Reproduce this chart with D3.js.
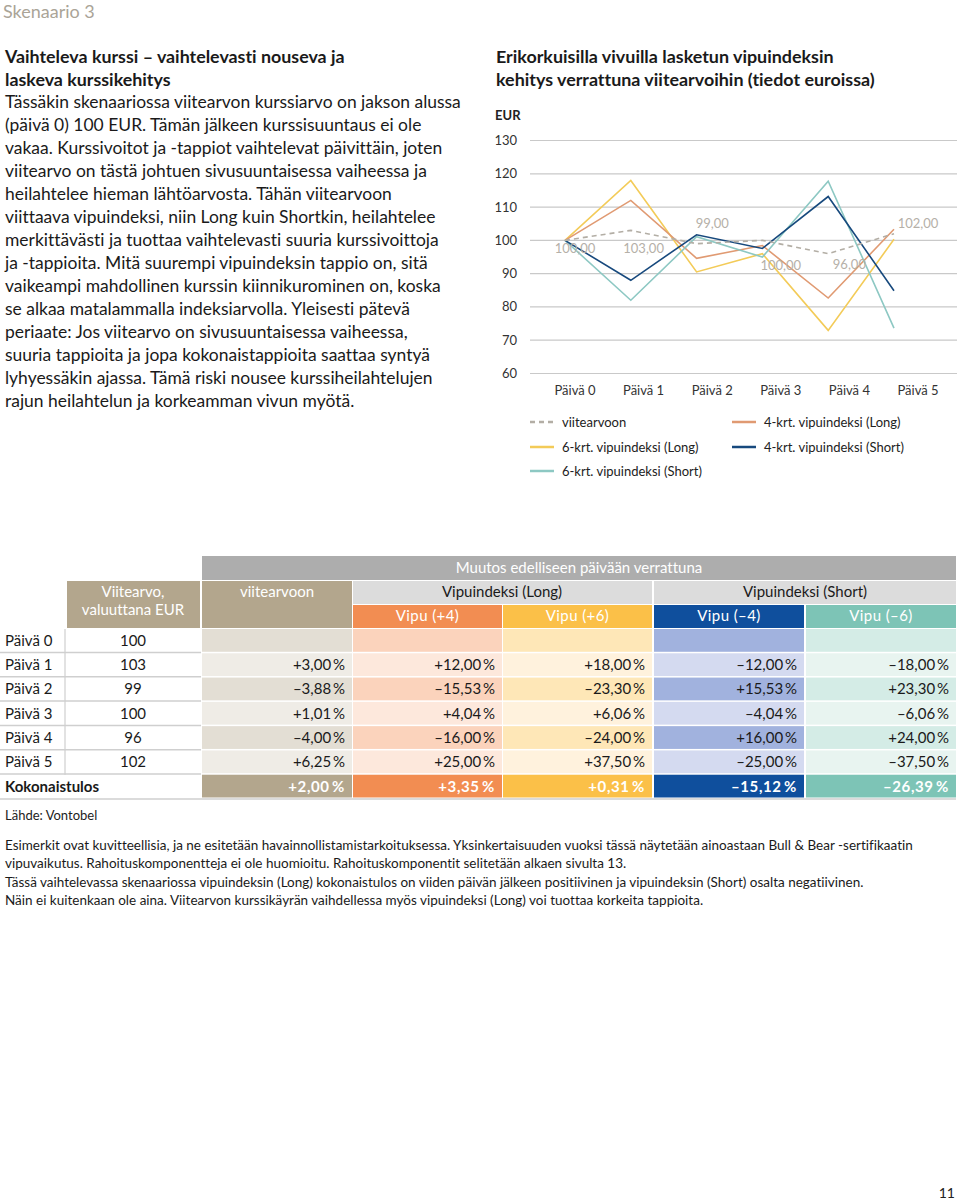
<!DOCTYPE html>
<html><head><meta charset="utf-8">
<script src="https://cdn.jsdelivr.net/npm/d3@7"></script>
<style>
html,body{margin:0;padding:0;background:#fff;}
svg{display:block;}
text{font-family:Lato,"Open Sans",sans-serif;font-variant-ligatures:none;font-feature-settings:"liga" 0,"clig" 0;}
</style></head>
<body>
<svg id="page" width="960" height="1201"></svg>
<script>
// ---------------- DATA ----------------
const days = ["Päivä 0","Päivä 1","Päivä 2","Päivä 3","Päivä 4","Päivä 5"];
const refValues = [100, 103, 99, 100, 96, 102];
const long4Values = [100, 112, 94.61, 98.43, 82.68, 103.35];
const long6Values = [100, 118, 90.51, 96.00, 72.96, 100.31];
const short4Values = [100, 88, 101.67, 97.56, 113.17, 84.88];
const short6Values = [100, 82, 101.11, 94.98, 117.78, 73.61];
const refLabels = ["100,00","103,00","99,00","100,00","96,00","102,00"];
const yTicks = [60, 70, 80, 90, 100, 110, 120, 130];

const seriesNames = ["viitearvoon","4-krt. vipuindeksi (Long)","6-krt. vipuindeksi (Long)","4-krt. vipuindeksi (Short)","6-krt. vipuindeksi (Short)"];

const refChange   = [null, 3.00, -3.88, 1.01, -4.00, 6.25];
const long4Change = [null, 12.00, -15.53, 4.04, -16.00, 25.00];
const long6Change = [null, 18.00, -23.30, 6.06, -24.00, 37.50];
const short4Change= [null, -12.00, 15.53, -4.04, 16.00, -25.00];
const short6Change= [null, -18.00, 23.30, -6.06, 24.00, -37.50];
const totals = [2.00, 3.35, 0.31, -15.12, -26.39];
const vipuHeaders = ["Vipu (+4)","Vipu (+6)","Vipu (–4)","Vipu (–6)"];

const bodyLines = [
"Tässäkin skenaariossa viitearvon kurssiarvo on jakson alussa",
"(päivä 0) 100 EUR. Tämän jälkeen kurssisuuntaus ei ole",
"vakaa. Kurssivoitot ja -tappiot vaihtelevat päivittäin, joten",
"viitearvo on tästä johtuen sivusuuntaisessa vaiheessa ja",
"heilahtelee hieman lähtöarvosta. Tähän viitearvoon",
"viittaava vipuindeksi, niin Long kuin Shortkin, heilahtelee",
"merkittävästi ja tuottaa vaihtelevasti suuria kurssivoittoja",
"ja -tappioita. Mitä suurempi vipuindeksin tappio on, sitä",
"vaikeampi mahdollinen kurssin kiinnikurominen on, koska",
"se alkaa matalammalla indeksiarvolla. Yleisesti pätevä",
"periaate: Jos viitearvo on sivusuuntaisessa vaiheessa,",
"suuria tappioita ja jopa kokonaistappioita saattaa syntyä",
"lyhyessäkin ajassa. Tämä riski nousee kurssiheilahtelujen",
"rajun heilahtelun ja korkeamman vivun myötä."
];
const footLines = [
"Esimerkit ovat kuvitteellisia, ja ne esitetään havainnollistamistarkoituksessa. Yksinkertaisuuden vuoksi tässä näytetään ainoastaan Bull & Bear -sertifikaatin",
"vipuvaikutus. Rahoituskomponentteja ei ole huomioitu. Rahoituskomponentit selitetään alkaen sivulta 13.",
"Tässä vaihtelevassa skenaariossa vipuindeksin (Long) kokonaistulos on viiden päivän jälkeen positiivinen ja vipuindeksin (Short) osalta negatiivinen.",
"Näin ei kuitenkaan ole aina. Viitearvon kurssikäyrän vaihdellessa myös vipuindeksi (Long) voi tuottaa korkeita tappioita."
];

// ---------------- STYLE ----------------
const colors = {ref:"#b3aea5", long4:"#e09a72", long6:"#f3cb58", short4:"#17497d", short6:"#8dc8c3"};
const svg = d3.select("#page");
svg.append("rect").attr("width",960).attr("height",1201).attr("fill","#fff");

function fitSize(text, base, weight, target){
  const p = svg.append("text").attr("font-size",base).attr("font-weight",weight).text(text);
  const w = p.node().getComputedTextLength();
  p.remove();
  return base*target/w;
}

// header
svg.append("text").attr("x",3).attr("y",18).attr("font-size",18).attr("fill","#aaa497").text("Skenaario 3");

// left heading
const head = ["Vaihteleva kurssi – vaihtelevasti nouseva ja","laskeva kurssikehitys"];
const hfs = fitSize(head[0],17,700,340);
head.forEach((t,i)=>svg.append("text").attr("x",5).attr("y",63+i*23).attr("font-size",hfs).attr("font-weight",700).attr("fill","#1a1a1a").text(t));

// body text
const bfs = fitSize(bodyLines[0],17,400,456);
bodyLines.forEach((t,i)=>svg.append("text").attr("x",5).attr("y",108+i*23).attr("font-size",bfs).attr("fill","#1a1a1a").text(t));

// ---------------- CHART ----------------
const title = ["Erikorkuisilla vivuilla lasketun vipuindeksin","kehitys verrattuna viitearvoihin (tiedot euroissa)"];
const tfs = fitSize(title[1],17,700,379);
title.forEach((t,i)=>svg.append("text").attr("x",496).attr("y",63+i*23).attr("font-size",tfs).attr("font-weight",700).attr("fill","#1a1a1a").text(t));
svg.append("text").attr("x",495).attr("y",120).attr("font-size",13).attr("font-weight",700).attr("fill","#222").text("EUR");

const y = d3.scaleLinear().domain([60,130]).range([373.5,140.5]);
const xP = d3.scalePoint().domain(days).range([565,894]);
const xL = d3.scalePoint().domain(days).range([575,918]);

const grid = svg.append("g");
yTicks.forEach(v=>{
  grid.append("line").attr("x1",530).attr("x2",957).attr("y1",y(v)).attr("y2",y(v)).attr("stroke","#c9c9c9").attr("stroke-width",1.2);
  grid.append("text").attr("x",517).attr("y",y(v)).attr("dy","0.35em").attr("text-anchor","end").attr("font-size",13).attr("fill","#333").text(v);
});
days.forEach(d=>svg.append("text").attr("x",xL(d)).attr("y",390).attr("dy","0.35em").attr("text-anchor","middle").attr("font-size",13).attr("fill","#333").text(d));

const line = d3.line().x((d,i)=>xP(days[i])).y(d=>y(d));
const series = [
  {vals:long6Values, c:colors.long6, dash:null},
  {vals:long4Values, c:colors.long4, dash:null},
  {vals:short6Values, c:colors.short6, dash:null},
  {vals:short4Values, c:colors.short4, dash:null},
  {vals:refValues, c:colors.ref, dash:"5,4"}
];
series.forEach(s=>svg.append("path").attr("d",line(s.vals)).attr("fill","none").attr("stroke",s.c).attr("stroke-width",1.6).attr("stroke-dasharray",s.dash));

const labelDy = [8, 18, -20, 25, 11, -10];
refLabels.forEach((t,i)=>svg.append("text").attr("x",xL(days[i])).attr("y",y(refValues[i])+labelDy[i]).attr("dy","0.35em").attr("text-anchor","middle").attr("font-size",13).attr("fill","#b5b0a8").text(t));

// legend
const legend = [
  {name:seriesNames[0], c:colors.ref, dash:"5,4", x:530, y:422},
  {name:seriesNames[1], c:colors.long4, dash:null, x:732, y:422},
  {name:seriesNames[2], c:colors.long6, dash:null, x:530, y:447},
  {name:seriesNames[3], c:colors.short4, dash:null, x:732, y:447},
  {name:seriesNames[4], c:colors.short6, dash:null, x:530, y:471}
];
legend.forEach(l=>{
  svg.append("line").attr("x1",l.x).attr("x2",l.x+24).attr("y1",l.y).attr("y2",l.y).attr("stroke",l.c).attr("stroke-width",2.5).attr("stroke-dasharray",l.dash);
  svg.append("text").attr("x",l.x+32).attr("y",l.y).attr("dy","0.35em").attr("font-size",13).attr("fill","#222").text(l.name);
});

// ---------------- TABLE ----------------
const fmt = v => (v>=0?"+":"–") + d3.format(".2f")(Math.abs(v)).replace(".",",") + "\u2009%";
const T = svg.append("g");
const cols = [
  {x0:202,x1:352, strong:"#b3a68d", even:"#e3ded4", odd:"#efece6", vals:refChange},
  {x0:353,x1:502, strong:"#f28d52", even:"#fbd3bc", odd:"#fde8dc", vals:long4Change},
  {x0:503,x1:652, strong:"#fbc048", even:"#fee7b7", odd:"#fff2dd", vals:long6Change},
  {x0:654,x1:804, strong:"#0f4f9d", even:"#a1b2de", odd:"#d4daf0", vals:short4Change},
  {x0:806,x1:956, strong:"#7dc4b6", even:"#d4ece6", odd:"#e8f4f0", vals:short6Change}
];
const hfz = 15;
T.append("rect").attr("x",202).attr("y",556).attr("width",754).attr("height",24).attr("fill","#adadad");
T.append("text").attr("x",579).attr("y",568).attr("dy","0.35em").attr("text-anchor","middle").attr("font-size",hfz).attr("fill","#fff").text("Muutos edelliseen päivään verrattuna");
T.append("rect").attr("x",67).attr("y",581).attr("width",133).attr("height",47).attr("fill","#b3a68d");
T.append("text").attr("x",133).attr("y",592).attr("dy","0.35em").attr("text-anchor","middle").attr("font-size",hfz).attr("fill","#fff").text("Viitearvo,");
T.append("text").attr("x",133).attr("y",610).attr("dy","0.35em").attr("text-anchor","middle").attr("font-size",hfz).attr("fill","#fff").text("valuuttana EUR");
T.append("rect").attr("x",202).attr("y",581).attr("width",150).attr("height",47).attr("fill","#b3a68d");
T.append("text").attr("x",277).attr("y",592).attr("dy","0.35em").attr("text-anchor","middle").attr("font-size",hfz).attr("fill","#fff").text("viitearvoon");
T.append("rect").attr("x",353).attr("y",581).attr("width",299).attr("height",23).attr("fill","#dcdcdc");
T.append("text").attr("x",502).attr("y",592).attr("dy","0.35em").attr("text-anchor","middle").attr("font-size",hfz).attr("fill","#1a1a1a").text("Vipuindeksi (Long)");
T.append("rect").attr("x",654).attr("y",581).attr("width",302).attr("height",23).attr("fill","#dcdcdc");
T.append("text").attr("x",805).attr("y",592).attr("dy","0.35em").attr("text-anchor","middle").attr("font-size",hfz).attr("fill","#1a1a1a").text("Vipuindeksi (Short)");
cols.slice(1).forEach((c,i)=>{
  T.append("rect").attr("x",c.x0).attr("y",605).attr("width",c.x1-c.x0).attr("height",23).attr("fill",c.strong);
  T.append("text").attr("x",(c.x0+c.x1)/2).attr("y",616).attr("dy","0.35em").attr("text-anchor","middle").attr("font-size",hfz).attr("letter-spacing",0.4).attr("fill","#fff").text(vipuHeaders[i]);
});

const rowY = d3.scaleBand().domain(d3.range(7)).range([629,799]).paddingInner(0);
const rh = rowY.bandwidth();
days.forEach((d,r)=>{
  const top = rowY(r);
  cols.forEach(c=>{
    T.append("rect").attr("x",c.x0).attr("y",top).attr("width",c.x1-c.x0).attr("height",rh-1.5).attr("fill", r%2===0?c.even:c.odd);
    if(c.vals[r]!==null) T.append("text").attr("x",c.x1-7).attr("y",top+rh/2-0.5).attr("dy","0.35em").attr("text-anchor","end").attr("font-size",15).attr("fill","#1a1a1a").text(fmt(c.vals[r]));
  });
  T.append("text").attr("x",5).attr("y",top+rh/2-0.5).attr("dy","0.35em").attr("font-size",15).attr("fill","#1a1a1a").text(d);
  T.append("text").attr("x",133).attr("y",top+rh/2-0.5).attr("dy","0.35em").attr("text-anchor","middle").attr("font-size",15).attr("fill","#1a1a1a").text(refValues[r]);
  T.append("line").attr("x1",0).attr("x2",201).attr("y1",top+rh-0.75).attr("y2",top+rh-0.75).attr("stroke","#cfcfcf").attr("stroke-width",1.5);
});
T.append("line").attr("x1",65).attr("x2",65).attr("y1",629).attr("y2",rowY(6)).attr("stroke","#cfcfcf").attr("stroke-width",1.2);
const tTop = rowY(6);
T.append("text").attr("x",5).attr("y",tTop+rh/2-0.5).attr("dy","0.35em").attr("font-size",15).attr("font-weight",700).attr("fill","#1a1a1a").text("Kokonaistulos");
cols.forEach((c,i)=>{
  T.append("rect").attr("x",c.x0).attr("y",tTop).attr("width",c.x1-c.x0).attr("height",rh-1.5).attr("fill",c.strong);
  T.append("text").attr("x",c.x1-7).attr("y",tTop+rh/2-0.5).attr("dy","0.35em").attr("text-anchor","end").attr("font-size",15).attr("font-weight",700).attr("letter-spacing",0.6).attr("fill","#fff").text(fmt(totals[i]));
});
T.append("line").attr("x1",0).attr("x2",956).attr("y1",tTop+rh).attr("y2",tTop+rh).attr("stroke","#cfcfcf").attr("stroke-width",1.5);

svg.append("text").attr("x",5).attr("y",815).attr("dy","0.35em").attr("font-size",13).attr("fill","#222").text("Lähde: Vontobel");

// footnotes (condensed to fit)
const fg = svg.append("g");
const fp = fg.append("text").attr("font-size",13).text(footLines[0]);
const fw = fp.node().getComputedTextLength();
fp.remove();
const sx = 908 / fw;
const fy = [845, 863.5, 882, 900.5];
footLines.forEach((t,i)=>fg.append("text").attr("transform",`translate(5,${fy[i]}) scale(${sx},1)`).attr("dy","0.35em").attr("font-size",13).attr("fill","#1a1a1a").text(t));

svg.append("text").attr("x",955).attr("y",1193).attr("dy","0.35em").attr("text-anchor","end").attr("font-size",14).attr("fill","#222").text("11");
</script>
</body></html>
